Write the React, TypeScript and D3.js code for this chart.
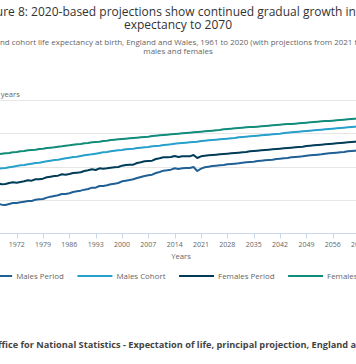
import React from "react";
import * as d3 from "d3";

const TITLE = [
  "Figure 8: 2020-based projections show continued gradual growth in life",
  "expectancy to 2070",
];
const SUBTITLE = [
  "Period and cohort life expectancy at birth, England and Wales, 1961 to 2020 (with projections from 2021 to 2070),",
  "males and females",
];
const SOURCE_PREFIX = "Source: Of";
const SOURCE = "Source: Office for National Statistics - Expectation of life, principal projection, England and Wales";
const Y_TITLE = "years";
const X_TITLE = "Years";

const FIRST_YEAR = 1961;
const LAST_YEAR = 2070;
const X_TICKS = [1965, 1972, 1979, 1986, 1993, 2000, 2007, 2014, 2021, 2028, 2035, 2042, 2049, 2056, 2063, 2070];
const Y_TICKS = [60, 70, 80, 90, 100];

const SERIES_NAMES = ["Males Period", "Males Cohort", "Females Period", "Females Cohort"];
const SERIES_COLORS = ["#206095", "#27a0cc", "#003c57", "#118c7b"];

const MALES_PERIOD = [
  67.9, 67.9, 67.9, 68.4, 68.5, 68.6, 68.9, 68.6, 68.5, 68.8,
  69.1, 69.1, 69.3, 69.5, 69.7, 69.7, 70.1, 70.2, 70.3, 70.7,
  71.0, 71.2, 71.4, 71.8, 71.8, 72.0, 72.4, 72.6, 72.8, 73.1,
  73.3, 73.7, 73.7, 74.2, 74.2, 74.4, 74.7, 74.9, 75.1, 75.6,
  75.8, 76.0, 76.2, 76.6, 76.9, 77.2, 77.4, 77.6, 78.1, 78.4,
  78.8, 78.9, 79.1, 79.5, 79.3, 79.5, 79.6, 79.6, 79.9, 78.7,
  79.4, 79.8, 80.0, 80.2, 80.3, 80.4, 80.5, 80.7, 80.8, 80.9,
  81.0, 81.2, 81.3, 81.4, 81.5, 81.7, 81.8, 81.9, 82.0, 82.1,
  82.3, 82.4, 82.5, 82.6, 82.8, 82.9, 83.0, 83.1, 83.3, 83.4,
  83.5, 83.6, 83.7, 83.9, 84.0, 84.1, 84.2, 84.3, 84.4, 84.6,
  84.7, 84.8, 84.9, 85.0, 85.1, 85.2, 85.3, 85.5, 85.6, 85.7,
];

const MALES_COHORT = [
  78.2, 78.4, 78.6, 78.7, 78.9, 79.1, 79.3, 79.5, 79.6, 79.8,
  80.0, 80.2, 80.4, 80.5, 80.7, 80.9, 81.1, 81.2, 81.4, 81.6,
  81.8, 82.0, 82.1, 82.3, 82.5, 82.7, 82.9, 83.0, 83.2, 83.4,
  83.6, 83.7, 83.9, 84.1, 84.3, 84.4, 84.6, 84.8, 84.9, 85.0,
  85.2, 85.3, 85.4, 85.6, 85.7, 85.8, 85.9, 86.1, 86.2, 86.3,
  86.5, 86.6, 86.7, 86.9, 87.0, 87.1, 87.2, 87.3, 87.4, 87.5,
  87.7, 87.8, 87.9, 88.0, 88.1, 88.2, 88.3, 88.4, 88.5, 88.6,
  88.8, 88.9, 89.0, 89.1, 89.2, 89.3, 89.4, 89.5, 89.6, 89.7,
  89.8, 89.9, 90.1, 90.2, 90.3, 90.4, 90.5, 90.6, 90.7, 90.8,
  90.9, 91.0, 91.1, 91.2, 91.3, 91.4, 91.5, 91.6, 91.7, 91.8,
  91.9, 92.0, 92.1, 92.1, 92.2, 92.3, 92.4, 92.5, 92.6, 92.7,
];

const FEMALES_PERIOD = [
  73.8, 73.7, 73.8, 74.4, 74.5, 74.6, 75.0, 74.7, 74.8, 75.1,
  75.3, 75.2, 75.4, 75.6, 75.9, 75.8, 76.2, 76.2, 76.4, 76.8,
  77.0, 77.2, 77.3, 77.7, 77.6, 77.8, 78.1, 78.2, 78.3, 78.7,
  78.9, 79.2, 79.0, 79.5, 79.4, 79.5, 79.7, 79.8, 79.9, 80.3,
  80.5, 80.6, 80.6, 81.1, 81.3, 81.6, 81.7, 81.8, 82.3, 82.5,
  82.8, 82.8, 82.9, 83.2, 82.9, 83.1, 83.1, 83.1, 83.5, 82.6,
  83.1, 83.3, 83.4, 83.5, 83.6, 83.7, 83.8, 83.9, 84.0, 84.1,
  84.2, 84.3, 84.4, 84.6, 84.7, 84.8, 84.9, 85.0, 85.1, 85.2,
  85.3, 85.4, 85.5, 85.6, 85.7, 85.8, 85.9, 86.0, 86.2, 86.3,
  86.4, 86.5, 86.6, 86.7, 86.8, 86.9, 87.0, 87.1, 87.2, 87.3,
  87.4, 87.5, 87.6, 87.7, 87.8, 87.9, 88.0, 88.1, 88.2, 88.3,
];

const FEMALES_COHORT = [
  82.9, 83.0, 83.2, 83.3, 83.4, 83.6, 83.7, 83.9, 84.0, 84.1,
  84.3, 84.4, 84.6, 84.7, 84.9, 85.0, 85.1, 85.3, 85.4, 85.6,
  85.7, 85.8, 86.0, 86.1, 86.3, 86.4, 86.6, 86.7, 86.8, 87.0,
  87.1, 87.3, 87.4, 87.5, 87.7, 87.8, 88.0, 88.1, 88.2, 88.3,
  88.4, 88.5, 88.6, 88.7, 88.8, 88.9, 89.0, 89.2, 89.3, 89.4,
  89.5, 89.6, 89.7, 89.8, 89.9, 90.0, 90.1, 90.2, 90.3, 90.4,
  90.5, 90.6, 90.7, 90.8, 90.9, 91.0, 91.2, 91.3, 91.4, 91.5,
  91.6, 91.7, 91.8, 91.9, 91.9, 92.0, 92.1, 92.2, 92.3, 92.4,
  92.5, 92.6, 92.7, 92.8, 92.8, 92.9, 93.0, 93.1, 93.2, 93.3,
  93.4, 93.5, 93.6, 93.7, 93.7, 93.8, 93.9, 94.0, 94.1, 94.2,
  94.3, 94.4, 94.5, 94.5, 94.6, 94.7, 94.8, 94.9, 95.0, 95.1,
];

const SERIES_VALUES = [MALES_PERIOD, MALES_COHORT, FEMALES_PERIOD, FEMALES_COHORT];

const W = 356;
const H = 364;
const FONT = "'Open Sans', 'Noto Sans', sans-serif";

function measure(text: string, font: string): number {
  const c = document.createElement("canvas").getContext("2d");
  if (!c) return text.length * 4;
  c.font = font;
  return c.measureText(text).width;
}

export default function App() {
  const x = d3.scaleLinear().domain([FIRST_YEAR, LAST_YEAR]).range([-24.7, 385.4]);
  const y = d3.scaleLinear().domain([60, 100]).range([233.3, 100]);

  const line = d3
    .line<number>()
    .x((_, i) => x(FIRST_YEAR + i))
    .y((v) => y(v));

  const legendFontSize = 7.9;
  const legendFont = `${legendFontSize}px 'Open Sans'`;
  const lineLen = 35;
  const gap = 4;
  const spacing = 13.6;
  const widths = SERIES_NAMES.map((n) => measure(n, legendFont));
  const total = widths.reduce((a, b) => a + b, 0) + SERIES_NAMES.length * (lineLen + gap) + spacing * (SERIES_NAMES.length - 1);
  const legendCenter = 181;
  let cursor = legendCenter - total / 2;
  const legendItems = SERIES_NAMES.map((n, i) => {
    const start = cursor;
    cursor += lineLen + gap + widths[i] + spacing;
    return { name: n, color: SERIES_COLORS[i], start };
  });

  const sourceSize = 9.2;
  const sourceFont = `bold ${sourceSize}px 'Open Sans'`;
  const sourceX = 1.6 - measure(SOURCE_PREFIX, sourceFont);

  return (
    <svg
      width={W}
      height={H}
      style={{ position: "absolute", left: 0, top: 0, background: "#fff", display: "block" }}
      fontFamily={FONT}
    >
      <rect x={0} y={0} width={W} height={H} fill="#fff" />
      {TITLE.map((t, i) => (
        <text key={t} x={178} y={15.5 + i * 13.2} textAnchor="middle" fontSize={12} fill="#333">
          {t}
        </text>
      ))}
      {SUBTITLE.map((t, i) => (
        <text key={t} x={178} y={45 + i * 9} textAnchor="middle" fontSize={7.95} fill="#666">
          {t}
        </text>
      ))}
      <text x={0.8} y={96.5} fontSize={7.6} fill="#666">
        {Y_TITLE}
      </text>
      {Y_TICKS.filter((v) => v !== 60).map((v) => (
        <line key={v} x1={x(FIRST_YEAR)} x2={x(LAST_YEAR)} y1={Math.round(y(v)) + 0.5} y2={Math.round(y(v)) + 0.5} stroke="#e6e6e6" strokeWidth={1} />
      ))}
      <line x1={x(FIRST_YEAR)} x2={x(LAST_YEAR)} y1={Math.round(y(60)) + 0.5} y2={Math.round(y(60)) + 0.5} stroke="#ccd6eb" strokeWidth={1} />
      {X_TICKS.map((t) => (
        <g key={t}>
          <line x1={Math.round(x(t)) + 0.5} x2={Math.round(x(t)) + 0.5} y1={Math.round(y(60)) + 0.5} y2={Math.round(y(60)) + 5.5} stroke="#ccd6eb" strokeWidth={1} />
          <text x={x(t)} y={246.7} textAnchor="middle" fontSize={7} fill="#666">
            {t}
          </text>
        </g>
      ))}
      <text x={181} y={259.3} textAnchor="middle" fontSize={7.7} fill="#666">
        {X_TITLE}
      </text>
      {SERIES_VALUES.map((vals, i) => (
        <path key={SERIES_NAMES[i]} d={line(vals) || ""} fill="none" stroke={SERIES_COLORS[i]} strokeWidth={2} strokeLinejoin="round" strokeLinecap="round" />
      ))}
      {legendItems.map((it) => (
        <g key={it.name}>
          <line x1={it.start} x2={it.start + lineLen} y1={276} y2={276} stroke={it.color} strokeWidth={2} />
          <text x={it.start + lineLen + gap} y={278.9} fontSize={legendFontSize} fill="#666">
            {it.name}
          </text>
        </g>
      ))}
      <text x={sourceX} y={348.3} fontSize={sourceSize} fontWeight="bold" fill="#444">
        {SOURCE}
      </text>
    </svg>
  );
}
